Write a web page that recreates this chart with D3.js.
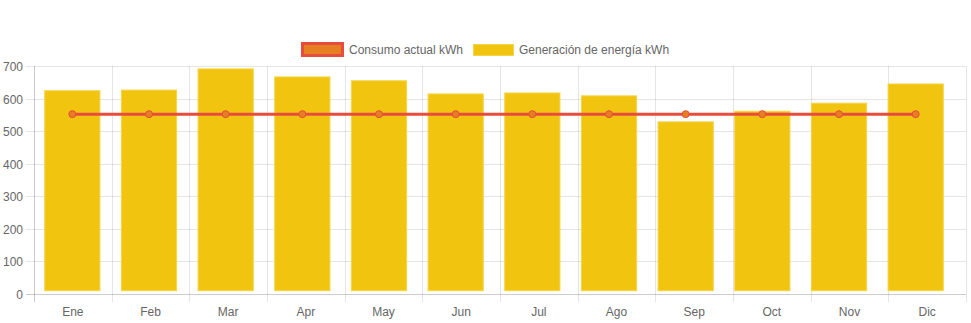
<!DOCTYPE html>
<html>
<head>
<meta charset="utf-8">
<script src="https://cdn.jsdelivr.net/npm/d3@7/dist/d3.min.js"></script>
<style>
  html, body { margin: 0; padding: 0; background: #fff; }
  svg { display: block; }
  text { font-family: "Liberation Sans", Arial, Helvetica, sans-serif; fill: #666; }
</style>
</head>
<body>
<svg id="chart" width="971" height="323"></svg>
<script>
// Monthly data (kWh)
const months = ["Ene", "Feb", "Mar", "Apr", "May", "Jun", "Jul", "Ago", "Sep", "Oct", "Nov", "Dic"];
const generacion = [623, 625, 691, 666, 654, 613, 616, 607, 526, 559, 584, 644];
const consumo = [550, 550, 550, 550, 550, 550, 550, 550, 550, 550, 550, 550];
const yTicks = [0, 100, 200, 300, 400, 500, 600, 700];
const seriesNames = ["Consumo actual kWh", "Generación de energía kWh"];

(function () {
  const svg = d3.select("#chart");

  const plotL = 34, plotR = 966, plotT = 66, plotB = 294;

  // axis / grid scales
  const xAxisScale = d3.scaleBand().domain(months).range([plotL, plotR]);
  const yAxisScale = d3.scaleLinear().domain([0, 700]).range([plotB, plotT]);

  // dataset scales (drawing area of the datasets)
  const xData = d3.scaleBand().domain(months).range([plotL, 954]);
  const yData = d3.scaleLinear().domain([0, 700]).range([290.7, plotT]);

  const gridColor = "rgba(0,0,0,0.1)";

  // horizontal grid + left tick marks
  const gy = svg.append("g");
  yTicks.forEach(t => {
    const y = Math.round(yAxisScale(t)) + 0.5;
    gy.append("line").attr("x1", plotL - 8).attr("x2", plotR).attr("y1", y).attr("y2", y)
      .attr("stroke", t === 0 ? "rgba(0,0,0,0.2)" : gridColor).attr("stroke-width", 1);
    gy.append("text").attr("x", 23).attr("y", y + 4).attr("text-anchor", "end")
      .attr("font-size", 12).text(t);
  });

  // vertical grid + bottom tick marks
  const gx = svg.append("g");
  const xLines = months.map(m => xAxisScale(m)).concat([plotR]);
  xLines.forEach((x, i) => {
    const xx = Math.round(x) + 0.5;
    gx.append("line").attr("x1", xx).attr("x2", xx).attr("y1", plotT).attr("y2", plotB + 8)
      .attr("stroke", i === 0 ? "rgba(0,0,0,0.2)" : gridColor).attr("stroke-width", 1);
  });
  months.forEach(m => {
    gx.append("text").attr("x", xAxisScale(m) + xAxisScale.bandwidth() / 2).attr("y", 316)
      .attr("text-anchor", "middle").attr("font-size", 12).text(m);
  });

  // bars
  const barW = xData.bandwidth() * 0.72;
  svg.append("g").selectAll("rect").data(generacion).join("rect")
    .attr("x", (d, i) => xData(months[i]) + (xData.bandwidth() - barW) / 2)
    .attr("y", d => yData(d))
    .attr("width", barW)
    .attr("height", d => yData(0) - yData(d))
    .attr("fill", "#f1c40f")
    .attr("stroke", "#f5d547").attr("stroke-width", 1);

  // line with point markers
  const cx = i => xData(months[i]) + xData.bandwidth() / 2;
  const line = d3.line().x((d, i) => cx(i)).y(d => yData(d));
  svg.append("path").datum(consumo).attr("d", line)
    .attr("fill", "none").attr("stroke", "#e74c3c").attr("stroke-width", 3);
  svg.append("g").selectAll("circle").data(consumo).join("circle")
    .attr("cx", (d, i) => cx(i)).attr("cy", d => yData(d)).attr("r", 3.5)
    .attr("fill", "#e67e22").attr("stroke", "#e74c3c").attr("stroke-width", 1);

  // legend
  const lg = svg.append("g");
  lg.append("rect").attr("x", 302.5).attr("y", 43.5).attr("width", 40).attr("height", 12)
    .attr("fill", "#e67e22").attr("stroke", "#e74c3c").attr("stroke-width", 3);
  lg.append("text").attr("x", 349).attr("y", 54).attr("font-size", 12).text(seriesNames[0]);
  lg.append("rect").attr("x", 473.5).attr("y", 44.5).attr("width", 40).attr("height", 11)
    .attr("fill", "#f1c40f").attr("stroke", "#f5d547").attr("stroke-width", 1);
  lg.append("text").attr("x", 519).attr("y", 54).attr("font-size", 12).text(seriesNames[1]);
})();
</script>
</body>
</html>
